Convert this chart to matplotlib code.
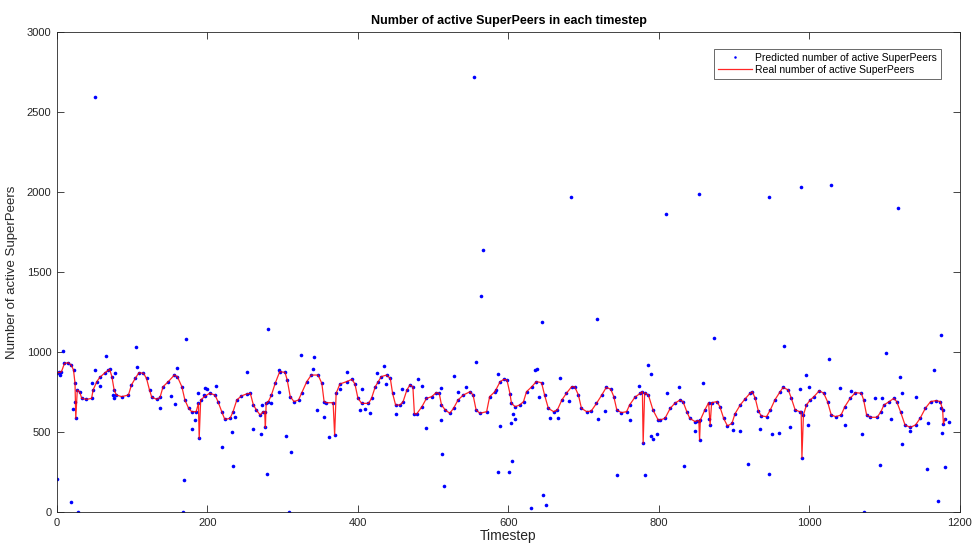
import matplotlib
matplotlib.use("Agg")
import matplotlib.pyplot as plt

plt.rcParams["font.family"] = ["Liberation Sans", "DejaVu Sans"]

# real number of active SuperPeers, read at keyframes of the red line
real_t = [0, 3, 6, 10, 15, 19, 22, 24, 25, 27, 30, 33, 39, 46, 48, 53, 57, 64, 70, 73,
          76, 79, 86, 95, 99, 104, 109, 115, 119, 123, 126, 133, 137, 141, 148, 156, 160, 166, 170, 175,
          179, 185, 188, 189, 191, 197, 203, 210, 214, 219, 223, 230, 234, 239, 245, 252, 257, 261, 265, 270,
          274, 276, 277, 278, 281, 285, 290, 296, 303, 306, 310, 315, 321, 325, 332, 338, 347, 352, 355, 358,
          367, 369, 371, 376, 385, 392, 396, 400, 405, 414, 418, 423, 427, 431, 438, 443, 446, 450, 456, 460,
          465, 469, 473, 475, 478, 485, 491, 498, 504, 508, 511, 516, 522, 527, 533, 540, 549, 553, 557, 562,
          571, 575, 582, 589, 594, 598, 602, 604, 609, 615, 620, 624, 631, 637, 644, 648, 653, 660, 665, 671,
          677, 684, 688, 693, 697, 704, 710, 717, 724, 730, 736, 740, 744, 750, 757, 761, 768, 775, 778, 779,
          781, 786, 792, 799, 801, 808, 815, 821, 828, 832, 837, 841, 848, 851, 853, 854, 855, 861, 866, 868,
          870, 877, 881, 886, 891, 897, 901, 908, 914, 921, 924, 928, 932, 936, 943, 948, 954, 961, 965, 972,
          976, 981, 987, 989, 990, 992, 996, 1001, 1006, 1013, 1019, 1024, 1029, 1035, 1042, 1047, 1054, 1061, 1069, 1072,
          1076, 1081, 1090, 1095, 1099, 1106, 1112, 1116, 1121, 1127, 1134, 1141, 1147, 1154, 1161, 1168, 1174, 1177, 1178, 1180]
real_v = [870, 872, 877, 929, 933, 919, 887, 804, 585, 762, 752, 710, 704, 710, 762, 815, 842, 871, 892, 846,
          762, 731, 721, 731, 794, 835, 871, 867, 835, 762, 717, 704, 717, 783, 815, 856, 846, 783, 700, 648,
          627, 627, 679, 460, 700, 725, 742, 731, 690, 627, 579, 585, 627, 700, 725, 738, 742, 669, 638, 606,
          627, 625, 529, 680, 690, 731, 804, 877, 873, 825, 721, 690, 700, 742, 815, 856, 856, 804, 690, 683,
          683, 481, 742, 800, 815, 829, 800, 710, 679, 679, 710, 783, 815, 846, 856, 835, 742, 669, 669, 690,
          762, 794, 783, 613, 613, 658, 710, 721, 746, 742, 669, 638, 617, 648, 700, 731, 752, 731, 638, 617,
          627, 721, 752, 815, 829, 825, 740, 679, 658, 669, 690, 752, 783, 815, 808, 731, 648, 627, 638, 700,
          742, 783, 783, 731, 648, 627, 631, 679, 731, 779, 767, 721, 638, 621, 627, 669, 717, 742, 752, 429,
          746, 731, 638, 575, 575, 585, 648, 679, 700, 690, 627, 585, 565, 571, 570, 450, 575, 638, 683, 544,
          683, 690, 658, 585, 538, 554, 613, 669, 704, 742, 752, 710, 633, 600, 596, 638, 700, 752, 779, 762,
          710, 638, 627, 627, 340, 606, 669, 700, 721, 758, 742, 690, 606, 596, 606, 658, 710, 746, 742, 700,
          606, 592, 592, 627, 669, 690, 710, 690, 627, 544, 529, 544, 585, 648, 690, 696, 690, 638, 550, 580]

# predicted values that sit away from the real curve
off_t = [0, 4, 8, 19, 21, 24, 28, 46, 50, 50, 57, 65, 68, 74, 76, 77, 105, 107, 137, 152,
         157, 159, 167, 169, 171, 180, 183, 188, 195, 197, 199, 212, 219, 232, 234, 237, 252, 261, 271, 273,
         279, 281, 285, 295, 295, 305, 308, 311, 324, 340, 342, 345, 355, 362, 376, 386, 403, 406, 409, 416,
         425, 434, 437, 451, 458, 480, 485, 490, 510, 511, 512, 515, 527, 533, 544, 554, 557, 564, 566, 584,
         586, 586, 589, 601, 604, 605, 606, 609, 630, 635, 638, 641, 645, 646, 650, 655, 666, 668, 680, 683,
         718, 719, 728, 744, 762, 773, 782, 786, 789, 790, 792, 797, 809, 811, 826, 833, 848, 853, 858, 866,
         873, 899, 908, 919, 934, 946, 946, 950, 959, 966, 974, 988, 989, 995, 998, 1000, 1026, 1029, 1040, 1047,
         1055, 1070, 1072, 1087, 1094, 1097, 1102, 1109, 1118, 1120, 1123, 1123, 1134, 1141, 1156, 1157, 1166, 1171, 1175, 1175,
         1176, 1180, 1186]
off_v = [206, 856, 1008, 64, 642, 690, 2, 804, 887, 2594, 788, 975, 890, 731, 710, 867, 1033, 904, 648, 725,
         675, 898, 2, 198, 1079, 517, 575, 746, 731, 773, 767, 787, 408, 502, 287, 592, 877, 517, 485, 669,
         240, 1142, 683, 752, 890, 473, 2, 373, 979, 892, 969, 638, 592, 467, 767, 877, 638, 767, 642, 621,
         871, 912, 800, 613, 767, 829, 788, 527, 773, 575, 360, 163, 850, 752, 783, 2719, 937, 1348, 1637, 762,
         862, 250, 538, 248, 554, 317, 613, 581, 23, 887, 892, 721, 1185, 108, 46, 585, 585, 835, 696, 1969,
         1208, 579, 633, 229, 575, 787, 229, 919, 475, 862, 455, 485, 1862, 746, 783, 287, 508, 1987, 804, 579,
         1085, 513, 508, 301, 517, 1969, 235, 490, 492, 1040, 533, 767, 2031, 856, 544, 783, 954, 2044, 773, 544,
         758, 487, 0, 710, 294, 710, 992, 581, 1900, 846, 746, 423, 508, 721, 271, 554, 885, 69, 1104, 648,
         492, 281, 565]

x_ticks = [0, 200, 400, 600, 800, 1000, 1200]
y_ticks = [0, 500, 1000, 1500, 2000, 2500, 3000]

fig = plt.figure(figsize=(9.72, 5.47), dpi=100)
ax = fig.add_axes([0.0586, 0.064, 0.929, 0.8775])

pred_t = real_t + off_t
pred_v = real_v + off_v
ax.plot(pred_t, pred_v, linestyle="none", marker="o", markersize=2.6,
        markeredgewidth=0, color="#0000ff", label="Predicted number of active SuperPeers")
ax.plot(real_t, real_v, color="#ff0000", linewidth=0.9, alpha=0.85,
        label="Real number of active SuperPeers")

ax.set_xlim(0, 1200)
ax.set_ylim(0, 3000)
ax.set_xticks(x_ticks)
ax.set_yticks(y_ticks)
ax.tick_params(direction="in", length=5, width=0.6, labelsize=8, colors="#262626",
               top=True, right=True, pad=4)
for spine in ax.spines.values():
    spine.set_color("#262626")
    spine.set_linewidth(0.6)

ax.set_title("Number of active SuperPeers in each timestep", fontsize=9, fontweight="bold", pad=6)
ax.set_xlabel("Timestep", fontsize=10, labelpad=1, color="#262626")
ax.set_ylabel("Number of active SuperPeers", fontsize=9.5, labelpad=6, color="#262626")

leg = ax.legend(loc="upper right", bbox_to_anchor=(0.979, 0.965), fontsize=7.5, frameon=True,
                fancybox=False, borderpad=0.4, handlelength=3.2, handletextpad=0.3,
                labelspacing=0.15, borderaxespad=0, markerscale=0.7)
leg.get_frame().set_edgecolor("#262626")
leg.get_frame().set_linewidth(0.6)

fig.savefig("out.png", dpi=100)
